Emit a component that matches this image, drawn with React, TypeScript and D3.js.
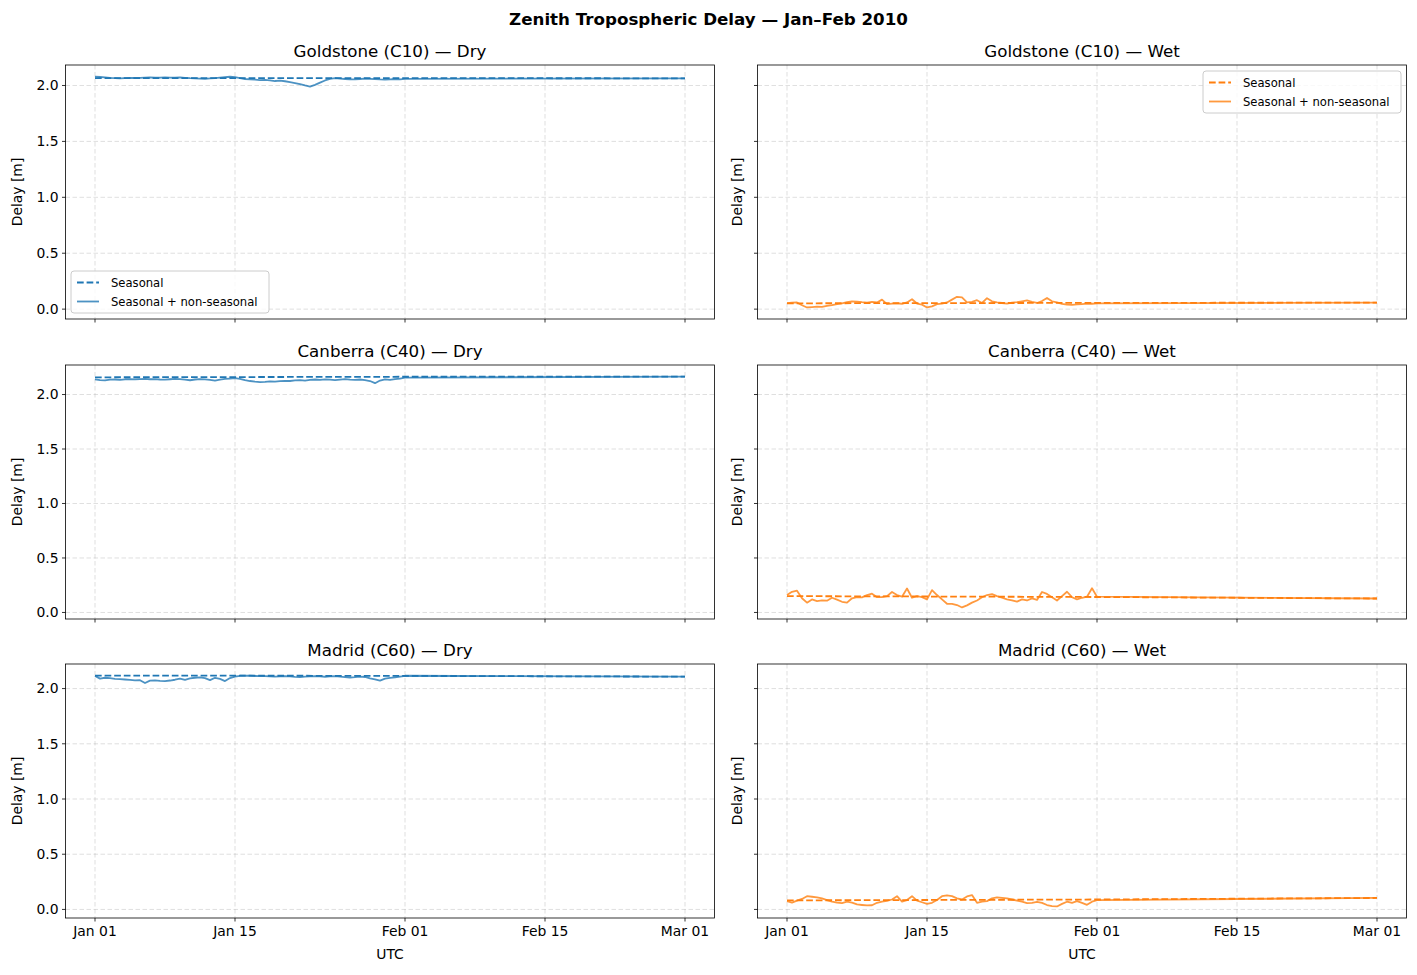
import * as d3 from 'd3';

// stations (rows) and components (columns)
const STATIONS = ['Goldstone (C10)', 'Canberra (C40)', 'Madrid (C60)'];
const COMPONENTS = ['Dry', 'Wet'];
const SEASONAL_DATES = ['2010-01-01', '2010-02-01', '2010-03-01'];
const TICK_DATES = ['2010-01-01', '2010-01-15', '2010-02-01', '2010-02-15', '2010-03-01'];
const Y_TICKS = [0, 0.5, 1.0, 1.5, 2.0];

// seasonal model, sampled at SEASONAL_DATES
const goldstoneDrySeasonal = [2.065, 2.066, 2.064];
const canberraDrySeasonal = [2.158, 2.163, 2.165];
const madridDrySeasonal = [2.118, 2.115, 2.108];
const goldstoneWetSeasonal = [0.052, 0.056, 0.058];
const canberraWetSeasonal = [0.150, 0.142, 0.128];
const madridWetSeasonal = [0.082, 0.090, 0.104];

// seasonal + non-seasonal, every 12 h from Jan 01 00:00 to Feb 01 00:00
const goldstoneDryTotal = [
  2.080, 2.076, 2.072, 2.068, 2.066, 2.064, 2.066, 2.068, 2.067, 2.069, 2.071, 2.072, 2.070, 2.071, 2.073, 2.071,
  2.070, 2.072, 2.069, 2.066, 2.064, 2.062, 2.060, 2.063, 2.066, 2.070, 2.074, 2.078, 2.075, 2.066, 2.058, 2.055,
  2.052, 2.048, 2.050, 2.046, 2.040, 2.043, 2.038, 2.030, 2.022, 2.012, 2.000, 1.990, 2.005, 2.025, 2.045, 2.060,
  2.066, 2.062, 2.058, 2.056, 2.055, 2.058, 2.061, 2.060, 2.057, 2.054, 2.052, 2.055, 2.058, 2.055, 2.060,
];
const canberraDryTotal = [
  2.140, 2.132, 2.130, 2.136, 2.138, 2.134, 2.140, 2.142, 2.139, 2.141, 2.144, 2.140, 2.142, 2.138, 2.136, 2.140,
  2.143, 2.141, 2.136, 2.131, 2.138, 2.142, 2.139, 2.135, 2.128, 2.137, 2.143, 2.146, 2.150, 2.144, 2.132, 2.124,
  2.118, 2.114, 2.116, 2.120, 2.118, 2.123, 2.126, 2.124, 2.130, 2.133, 2.128, 2.134, 2.138, 2.135, 2.139, 2.136,
  2.132, 2.137, 2.141, 2.136, 2.134, 2.138, 2.133, 2.124, 2.104, 2.128, 2.140, 2.135, 2.142, 2.146, 2.155,
];
const madridDryTotal = [
  2.115, 2.090, 2.098, 2.094, 2.088, 2.085, 2.082, 2.078, 2.074, 2.076, 2.050, 2.072, 2.075, 2.070, 2.068, 2.073,
  2.080, 2.090, 2.078, 2.092, 2.098, 2.102, 2.094, 2.076, 2.098, 2.088, 2.068, 2.095, 2.108, 2.116, 2.118, 2.116,
  2.114, 2.112, 2.113, 2.110, 2.108, 2.110, 2.112, 2.110, 2.106, 2.104, 2.108, 2.111, 2.113, 2.110, 2.107, 2.110,
  2.112, 2.108, 2.104, 2.100, 2.103, 2.108, 2.105, 2.092, 2.084, 2.072, 2.090, 2.096, 2.102, 2.108, 2.116,
];
const goldstoneWetTotal = [
  0.054, 0.058, 0.060, 0.035, 0.015, 0.018, 0.022, 0.020, 0.030, 0.035, 0.045, 0.052, 0.062, 0.070, 0.068, 0.062,
  0.058, 0.064, 0.060, 0.085, 0.045, 0.050, 0.052, 0.048, 0.060, 0.088, 0.050, 0.040, 0.015, 0.025, 0.045, 0.050,
  0.060, 0.085, 0.110, 0.105, 0.060, 0.065, 0.080, 0.055, 0.098, 0.070, 0.060, 0.055, 0.050, 0.058, 0.062, 0.070,
  0.078, 0.065, 0.055, 0.072, 0.100, 0.070, 0.060, 0.048, 0.040, 0.038, 0.042, 0.045, 0.050, 0.048, 0.052,
];
const canberraWetTotal = [
  0.160, 0.190, 0.200, 0.130, 0.090, 0.120, 0.105, 0.110, 0.108, 0.135, 0.118, 0.098, 0.090, 0.130, 0.140, 0.138,
  0.160, 0.172, 0.140, 0.142, 0.150, 0.188, 0.160, 0.145, 0.220, 0.135, 0.150, 0.140, 0.120, 0.205, 0.160, 0.120,
  0.080, 0.078, 0.068, 0.046, 0.065, 0.090, 0.110, 0.140, 0.160, 0.168, 0.150, 0.135, 0.120, 0.110, 0.100, 0.120,
  0.110, 0.130, 0.115, 0.188, 0.170, 0.140, 0.110, 0.150, 0.190, 0.140, 0.120, 0.135, 0.145, 0.222, 0.145,
];
const madridWetTotal = [
  0.076, 0.062, 0.080, 0.095, 0.120, 0.115, 0.110, 0.100, 0.085, 0.070, 0.062, 0.058, 0.070, 0.062, 0.045, 0.040,
  0.036, 0.038, 0.060, 0.070, 0.078, 0.090, 0.120, 0.070, 0.085, 0.120, 0.080, 0.065, 0.050, 0.060, 0.085, 0.120,
  0.128, 0.120, 0.100, 0.090, 0.118, 0.130, 0.060, 0.070, 0.075, 0.100, 0.110, 0.105, 0.100, 0.090, 0.080, 0.070,
  0.058, 0.060, 0.068, 0.060, 0.040, 0.030, 0.027, 0.050, 0.070, 0.060, 0.075, 0.060, 0.042, 0.070, 0.085,
];

const SEASONAL = [
  [goldstoneDrySeasonal, goldstoneWetSeasonal],
  [canberraDrySeasonal, canberraWetSeasonal],
  [madridDrySeasonal, madridWetSeasonal],
];
const TOTAL = [
  [goldstoneDryTotal, goldstoneWetTotal],
  [canberraDryTotal, canberraWetTotal],
  [madridDryTotal, madridWetTotal],
];

const COLORS = ['#1f77b4', '#ff7f0e'];
const FONT = '"DejaVu Sans", sans-serif';
const LW = 1.8;
const DASH = '6.7,2.9';

const W = 1417;
const H = 975;
const COL_LEFT = [65.5, 757.5];
const PANEL_W = 649;
const ROW_TOP = [65, 365, 664];
const PANEL_H = 254;

const parse = d3.utcParse('%Y-%m-%d');
const fmt = d3.utcFormat('%b %d');
const seasonalDates = SEASONAL_DATES.map(s => parse(s)!);
const tickDates = TICK_DATES.map(s => parse(s)!);
const t0 = seasonalDates[0];
const t1 = seasonalDates[seasonalDates.length - 1];
const pad = (+t1 - +t0) * 0.05;
const xDomain = [new Date(+t0 - pad), new Date(+t1 + pad)];

type Pt = [Date, number];

function totalPoints(total: number[], seasonal: number[]): Pt[] {
  const hours = d3.utcHour.every(12)!.range(t0, new Date(+t0 + total.length * 12 * 3600e3));
  const pts: Pt[] = total.map((v, i) => [hours[i], v]);
  // after the non-seasonal record ends the curve follows the seasonal model
  pts.push([seasonalDates[2], seasonal[2]]);
  return pts;
}

function Legend({ x, y, color }: { x: number; y: number; color: string }) {
  return (
    <g transform={`translate(${x},${y})`}>
      <rect width={198} height={42} rx={3} fill="white" fillOpacity={0.8} stroke="#cccccc" strokeWidth={1} />
      <line x1={6} x2={28} y1={11.5} y2={11.5} stroke={color} strokeWidth={LW} strokeDasharray={DASH} />
      <line x1={6} x2={28} y1={30.5} y2={30.5} stroke={color} strokeOpacity={0.8} strokeWidth={LW} />
      <text x={40} y={11.5} dy="0.35em" fontSize={11.6}>Seasonal</text>
      <text x={40} y={30.5} dy="0.35em" fontSize={11.6}>Seasonal + non-seasonal</text>
    </g>
  );
}

function Panel({ row, col, yDomain }: { row: number; col: number; yDomain: [number, number] }) {
  const left = COL_LEFT[col];
  const top = ROW_TOP[row];
  const color = COLORS[col];
  const seasonal = SEASONAL[row][col];
  const total = TOTAL[row][col];
  const x = d3.scaleUtc().domain(xDomain).range([0, PANEL_W]);
  const y = d3.scaleLinear().domain(yDomain).range([PANEL_H, 0]);
  const line = d3.line<Pt>().x(d => x(d[0])).y(d => y(d[1]));
  const seasonalPts: Pt[] = seasonal.map((v, i) => [seasonalDates[i], v]);
  const clipId = `clip-${row}-${col}`;
  const showX = row === STATIONS.length - 1;
  return (
    <g transform={`translate(${left},${top})`}>
      <defs>
        <clipPath id={clipId}>
          <rect width={PANEL_W} height={PANEL_H} />
        </clipPath>
      </defs>
      {/* grid */}
      {tickDates.map(d => (
        <line key={+d} x1={x(d)} x2={x(d)} y1={0} y2={PANEL_H} stroke="#b0b0b0" strokeOpacity={0.5}
          strokeWidth={0.8} strokeDasharray="4.5,2.5" />
      ))}
      {Y_TICKS.map(v => (
        <line key={v} x1={0} x2={PANEL_W} y1={y(v)} y2={y(v)} stroke="#b0b0b0" strokeOpacity={0.5}
          strokeWidth={0.8} strokeDasharray="4.5,2.5" />
      ))}
      <g clipPath={`url(#${clipId})`}>
        <path d={line(totalPoints(total, seasonal))!} fill="none" stroke={color} strokeOpacity={0.8}
          strokeWidth={LW} strokeLinejoin="round" />
        <path d={line(seasonalPts)!} fill="none" stroke={color} strokeWidth={LW} strokeDasharray={DASH} />
      </g>
      <rect width={PANEL_W} height={PANEL_H} fill="none" stroke="black" strokeWidth={0.8} />
      {/* y ticks */}
      {Y_TICKS.map(v => (
        <g key={v} transform={`translate(0,${y(v)})`}>
          <line x1={-3.5} x2={0} stroke="black" strokeWidth={0.8} />
          {col === 0 && (
            <text x={-7} dy="0.35em" textAnchor="end" fontSize={13.9}>{v.toFixed(1)}</text>
          )}
        </g>
      ))}
      {/* x ticks */}
      {tickDates.map(d => (
        <g key={+d} transform={`translate(${x(d)},${PANEL_H})`}>
          <line y1={0} y2={3.5} stroke="black" strokeWidth={0.8} />
          {showX && (
            <text y={7} dy="0.76em" textAnchor="middle" fontSize={13.9}>{fmt(d)}</text>
          )}
        </g>
      ))}
      <text x={PANEL_W / 2} y={-8.3} textAnchor="middle" fontSize={16.7}>
        {`${STATIONS[row]} — ${COMPONENTS[col]}`}
      </text>
      <text transform={`translate(${col === 0 ? -44 : -16},${PANEL_H / 2}) rotate(-90)`} textAnchor="middle"
        fontSize={13.9}>Delay [m]</text>
      {showX && (
        <text x={PANEL_W / 2} y={PANEL_H + 30} dy="0.76em" textAnchor="middle" fontSize={13.9}>UTC</text>
      )}
      {row === 0 && col === 0 && <Legend x={5.5} y={PANEL_H - 48} color={color} />}
      {row === 0 && col === 1 && <Legend x={PANEL_W - 5.5 - 198} y={6} color={color} />}
    </g>
  );
}

export default function App() {
  const rowDomains = STATIONS.map((_, r) => {
    const vals = [0, 1].flatMap(c => [...SEASONAL[r][c], ...TOTAL[r][c]]);
    const [lo, hi] = d3.extent(vals) as [number, number];
    const m = (hi - lo) * 0.05;
    return [lo - m, hi + m] as [number, number];
  });
  return (
    <svg width={W} height={H} viewBox={`0 0 ${W} ${H}`}
      style={{ position: 'absolute', left: 0, top: 0, background: 'white' }} fontFamily={FONT}>
      <rect width={W} height={H} fill="white" />
      <text x={W / 2} y={25} textAnchor="middle" fontSize={16.7} fontWeight="bold">
        Zenith Tropospheric Delay — Jan–Feb 2010
      </text>
      {STATIONS.map((s, r) => COMPONENTS.map((c, ci) => (
        <Panel key={`${s}-${c}`} row={r} col={ci} yDomain={rowDomains[r]} />
      )))}
    </svg>
  );
}
